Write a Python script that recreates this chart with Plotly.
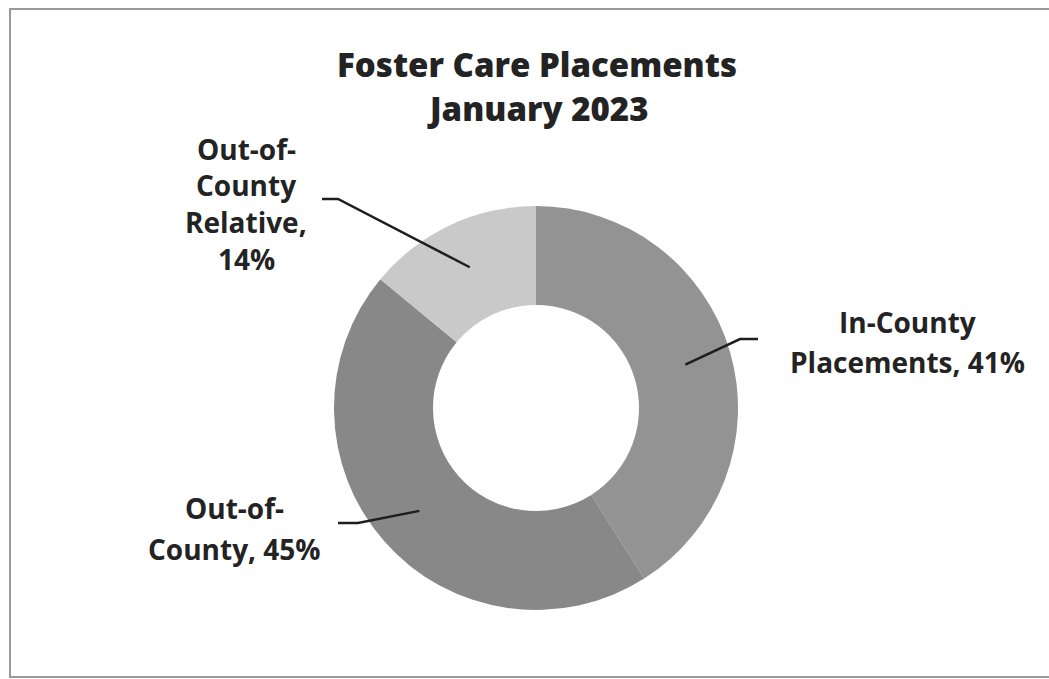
import math
import plotly.graph_objects as go

# ---- data ----
categories = ["In-County Placements", "Out-of-County", "Out-of-County Relative"]
values = [41, 45, 14]
label_lines = [["In-County", "Placements, 41%"], ["Out-of-", "County, 45%"],
               ["Out-of-", "County", "Relative,", "14%"]]
colors = ["#939393", "#888888", "#c9c9c9"]
title_lines = ["Foster Care Placements", "January 2023"]

W, H = 1049, 679
CX, CY, R = 536, 408, 202
HOLE = 0.51

FONT = "Open Sans"
TXT = "#232323"


def px(x):
    return x / W


def py(y):
    return 1 - y / H


fig = go.Figure(go.Pie(
    labels=categories, values=values, sort=False, direction="clockwise",
    rotation=0, hole=HOLE, marker=dict(colors=colors, line=dict(width=0)),
    textinfo="none", hoverinfo="label+percent", showlegend=False,
    domain=dict(x=[px(CX - R), px(CX + R)], y=[py(CY + R), py(CY - R)]),
))

# leader-line elbows and label centers (layout positions)
elbows = [(740, 339, 758), (358, 523, 338), (338, 199, 322)]
label_pos = [(907, 322, 40), (234, 508, 41), (246, 149, 36.5)]

total = sum(values)
cum = 0
shapes = []
annotations = []
for i, v in enumerate(values):
    mid = (cum + v / 2) / total * 2 * math.pi
    cum += v
    rr = 0.77 * R
    x0 = CX + rr * math.sin(mid)
    y0 = CY - rr * math.cos(mid)
    ex, ey, hx = elbows[i]
    path = f"M {px(x0)} {py(y0)} L {px(ex)} {py(ey)} L {px(hx)} {py(ey)}"
    shapes.append(dict(type="path", xref="paper", yref="paper", path=path,
                       line=dict(color="#1e1e1e", width=2.5)))
    lx, ly, lh = label_pos[i]
    for j, t in enumerate(label_lines[i]):
        annotations.append(dict(
            text=t, x=px(lx), y=py(ly + j * lh), xref="paper", yref="paper",
            showarrow=False, xanchor="center", yanchor="middle",
            font=dict(family=FONT, size=28, color=TXT, weight="bold")))

for j, t in enumerate(title_lines):
    annotations.append(dict(
        text=t, x=px(537), y=py(64 + j * 45), xref="paper", yref="paper",
        showarrow=False, xanchor="center", yanchor="middle",
        font=dict(family=FONT, size=33, color=TXT, weight=800)))

# outer frame
shapes.append(dict(type="rect", xref="paper", yref="paper",
                   x0=px(10), x1=px(1056), y0=py(677), y1=py(9),
                   line=dict(color="#9a9a9a", width=2), layer="below"))

fig.update_layout(
    width=W, height=H, margin=dict(l=0, r=0, t=0, b=0),
    paper_bgcolor="white", plot_bgcolor="white",
    shapes=shapes, annotations=annotations,
)

fig.write_html("out.html")
